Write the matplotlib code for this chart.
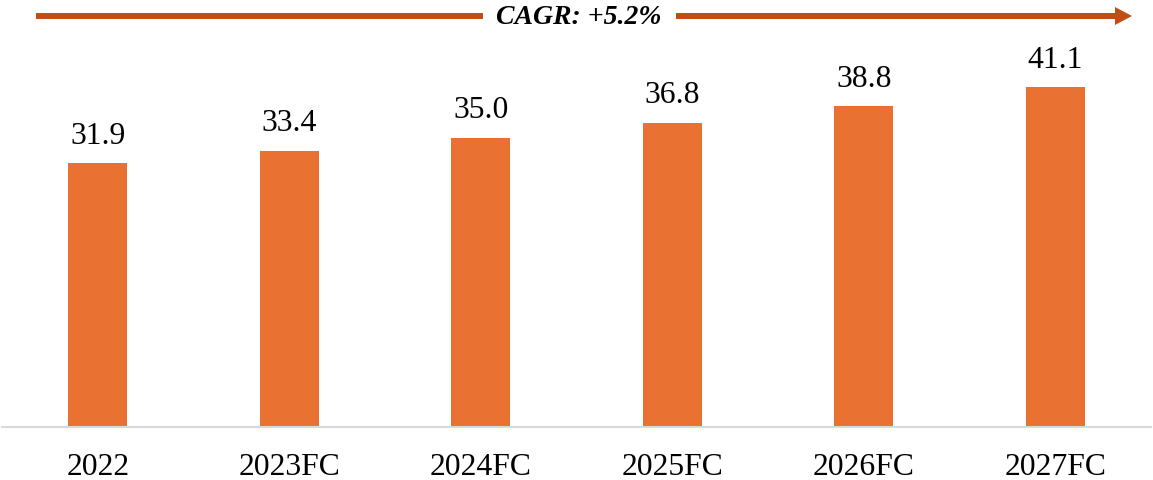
import matplotlib
matplotlib.use("Agg")
import matplotlib.pyplot as plt
from matplotlib.patches import FancyArrow

# Market size by year (actual + forecast)
years = ["2022", "2023FC", "2024FC", "2025FC", "2026FC", "2027FC"]
values = [31.9, 33.4, 35.0, 36.8, 38.8, 41.1]
cagr_label = "CAGR: +5.2%"

BAR_COLOR = "#E97132"
ARROW_COLOR = "#C04F15"
AXIS_COLOR = "#D9D9D9"

plt.rcParams["font.family"] = ["Liberation Serif", "DejaVu Serif"]

W, H = 1153, 480
fig = plt.figure(figsize=(W / 100, H / 100), dpi=100)

# Main bar axes, placed in pixel units
left, right, bottom, top = 2, 1151, 427, 55
ax = fig.add_axes([left / W, (H - bottom) / H, (right - left) / W, (bottom - top) / H])
x = range(len(years))
bars = ax.bar(x, values, width=0.31, color=BAR_COLOR)
ax.bar_label(bars, labels=[f"{v:.1f}" for v in values], padding=9, fontsize=22.8)
ax.set_xlim(-0.5, len(years) - 0.5)
ax.set_ylim(0, 45)
ax.set_xticks(list(x))
ax.set_xticklabels(years, fontsize=22.8)
ax.tick_params(axis="x", length=0, pad=18.5)
ax.set_yticks([])
for s in ("left", "right", "top"):
    ax.spines[s].set_visible(False)
ax.spines["bottom"].set_color(AXIS_COLOR)
ax.spines["bottom"].set_linewidth(1.5)

# Growth arrow across the top
ov = fig.add_axes([0, 0, 1, 1], facecolor="none")
ov.set_xlim(0, W)
ov.set_ylim(H, 0)
ov.axis("off")
y_arrow = 16
ov.plot([36, 483], [y_arrow, y_arrow], color=ARROW_COLOR, lw=4.3, solid_capstyle="butt")
ov.add_patch(FancyArrow(676, y_arrow, 1132 - 676, 0, width=6, head_width=18,
                        head_length=17, length_includes_head=True,
                        color=ARROW_COLOR, lw=0))
ov.text(579, y_arrow + 1, cagr_label, ha="center", va="center", fontsize=20,
        fontweight="bold", fontstyle="italic")

fig.savefig("out.png", dpi=100)
